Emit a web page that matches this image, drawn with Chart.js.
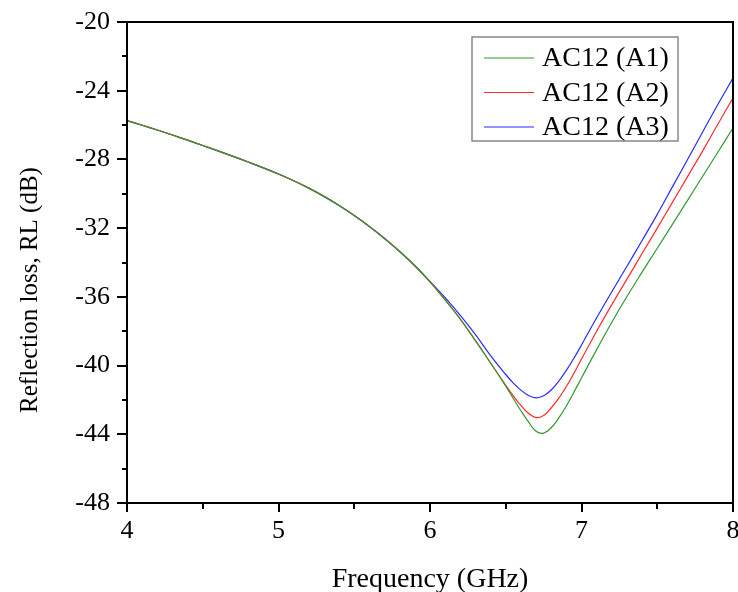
<!DOCTYPE html>
<html>
<head>
<meta charset="utf-8">
<script src="https://cdn.jsdelivr.net/npm/chart.js@4.4.0/dist/chart.umd.min.js"></script>
<style>
  html, body { margin: 0; padding: 0; background: #fff; }
  #wrap { width: 738px; height: 592px; }
</style>
</head>
<body>
<div id="wrap"><canvas id="rlChart"></canvas></div>
<script>
// frequency in GHz
var freq = [4.0, 4.1, 4.2, 4.3, 4.4, 4.5, 4.6, 4.7, 4.8, 4.9,
    5.0, 5.1, 5.2, 5.3, 5.4, 5.5, 5.6, 5.7, 5.8, 5.9,
    6.0, 6.1, 6.2, 6.3, 6.4, 6.5, 6.55, 6.6, 6.65, 6.7,
    6.75, 6.8, 6.85, 6.9, 6.95, 7.0, 7.1, 7.2, 7.3, 7.4,
    7.5, 7.6, 7.7, 7.8, 7.9, 8.0];

// reflection loss in dB
var rlA1 = [-25.74, -26.01, -26.29, -26.58, -26.88, -27.19, -27.5, -27.82, -28.15, -28.49,
    -28.85, -29.24, -29.67, -30.15, -30.68, -31.26, -31.9, -32.6, -33.36, -34.19,
    -35.13, -36.18, -37.3, -38.55, -39.85, -41.2, -41.92, -42.63, -43.28, -43.82,
    -43.93, -43.62, -43.05, -42.35, -41.55, -40.72, -39.07, -37.48, -35.98, -34.56,
    -33.17, -31.78, -30.38, -28.98, -27.58, -26.17];
var rlA2 = [-25.74, -26.01, -26.29, -26.58, -26.88, -27.19, -27.5, -27.82, -28.15, -28.49,
    -28.85, -29.24, -29.67, -30.15, -30.68, -31.26, -31.9, -32.6, -33.36, -34.19,
    -35.13, -36.18, -37.3, -38.55, -39.85, -41.15, -41.76, -42.32, -42.78, -43.03,
    -42.9, -42.47, -41.9, -41.22, -40.45, -39.62, -38.0, -36.45, -34.97, -33.48,
    -32.0, -30.5, -29.0, -27.5, -25.95, -24.42];
var rlA3 = [-25.74, -26.01, -26.29, -26.58, -26.88, -27.19, -27.5, -27.82, -28.15, -28.49,
    -28.85, -29.24, -29.67, -30.15, -30.68, -31.26, -31.9, -32.6, -33.36, -34.19,
    -35.1, -36.05, -37.08, -38.2, -39.42, -40.52, -41.02, -41.43, -41.74, -41.88,
    -41.76, -41.42, -40.9, -40.28, -39.57, -38.8, -37.22, -35.7, -34.22, -32.72,
    -31.2, -29.6, -28.0, -26.4, -24.8, -23.26];

var seriesNames = ['AC12 (A1)', 'AC12 (A2)', 'AC12 (A3)'];
var seriesColors = ['#2f9a2f', '#ff2a2a', '#2a2aff'];
var yTitle = 'Reflection loss, RL (dB)';

function toPoints(ys) {
    var pts = [];
    for (var i = 0; i < freq.length; i++) {
        pts.push({ x: freq[i], y: ys[i] });
    }
    return pts;
}

function makeSet(i, ys) {
    return {
        label: seriesNames[i],
        data: toPoints(ys),
        borderColor: seriesColors[i],
        borderWidth: 1.2,
        pointRadius: 0,
        fill: false,
        tension: 0.4
    };
}

var serif = '"Liberation Serif", "Times New Roman", serif';

// frame, outward ticks, y title and the boxed legend
var framePlugin = {
    id: 'frame',
    afterDraw: function (chart) {
        var ctx = chart.ctx;
        var a = chart.chartArea;
        var xs = chart.scales.x;
        var ys = chart.scales.y;
        ctx.save();
        ctx.strokeStyle = '#000';
        ctx.lineWidth = 2;
        ctx.strokeRect(a.left, a.top, a.right - a.left, a.bottom - a.top);

        ctx.beginPath();
        for (var v = 4; v <= 8.001; v += 0.5) {
            var px = Math.round(xs.getPixelForValue(v));
            var major = Math.abs(v - Math.round(v)) < 0.01;
            ctx.moveTo(px, a.bottom);
            ctx.lineTo(px, a.bottom + (major ? 9 : 6));
        }
        for (var w = -48; w <= -20; w += 2) {
            var py = Math.round(ys.getPixelForValue(w));
            var maj = (w % 4) === 0;
            ctx.moveTo(a.left, py);
            ctx.lineTo(a.left - (maj ? 10 : 5), py);
        }
        ctx.stroke();

        // y axis title, sits a bit below the middle in the original
        ctx.save();
        ctx.translate(30, 290);
        ctx.rotate(-Math.PI / 2);
        ctx.font = '25px ' + serif;
        ctx.fillStyle = '#000';
        ctx.textAlign = 'center';
        ctx.textBaseline = 'middle';
        ctx.fillText(yTitle, 0, 0);
        ctx.restore();

        // legend
        var lx = 472, ly = 37, lw = 206, lh = 104;
        ctx.fillStyle = '#fff';
        ctx.fillRect(lx, ly, lw, lh);
        ctx.strokeStyle = '#888';
        ctx.lineWidth = 1.5;
        ctx.strokeRect(lx, ly, lw, lh);
        ctx.font = '28px ' + serif;
        ctx.textBaseline = 'middle';
        ctx.textAlign = 'left';
        for (var i = 0; i < chart.data.datasets.length; i++) {
            var ds = chart.data.datasets[i];
            var ry = ly + 21 + i * 34.5;
            ctx.strokeStyle = ds.borderColor;
            ctx.lineWidth = 1.2;
            ctx.beginPath();
            ctx.moveTo(484, ry);
            ctx.lineTo(534, ry);
            ctx.stroke();
            ctx.fillStyle = '#000';
            ctx.fillText(ds.label, 542, ry + 1);
        }
        ctx.restore();
    }
};

var ctx = document.getElementById('rlChart').getContext('2d');
var rlChart = new Chart(ctx, {
    type: 'line',
    data: {
        datasets: [makeSet(0, rlA1), makeSet(1, rlA2), makeSet(2, rlA3)]
    },
    options: {
        responsive: true,
        maintainAspectRatio: false,
        animation: false,
        layout: { padding: { top: 22, right: 5, left: 0, bottom: 0 } },
        plugins: {
            legend: { display: false },
            tooltip: { enabled: false }
        },
        scales: {
            x: {
                type: 'linear',
                min: 4,
                max: 8,
                afterFit: function (s) {
                    s.height = 89;
                    s.paddingLeft = 0;
                    s.paddingRight = 0;
                },
                grid: { display: false, drawTicks: false },
                border: { display: false },
                ticks: {
                    stepSize: 1,
                    padding: 13,
                    color: '#000',
                    font: { family: serif, size: 26 }
                },
                title: {
                    display: true,
                    text: 'Frequency (GHz)',
                    color: '#000',
                    font: { family: serif, size: 28 },
                    padding: { top: 0, bottom: -4 }
                }
            },
            y: {
                min: -48,
                max: -20,
                afterFit: function (s) {
                    s.width = 127;
                    s.paddingTop = 0;
                    s.paddingBottom = 0;
                },
                grid: { display: false, drawTicks: false },
                border: { display: false },
                ticks: {
                    stepSize: 4,
                    padding: 17,
                    color: '#000',
                    font: { family: serif, size: 26 }
                },
                title: { display: false }
            }
        }
    },
    plugins: [framePlugin]
});
</script>
</body>
</html>
